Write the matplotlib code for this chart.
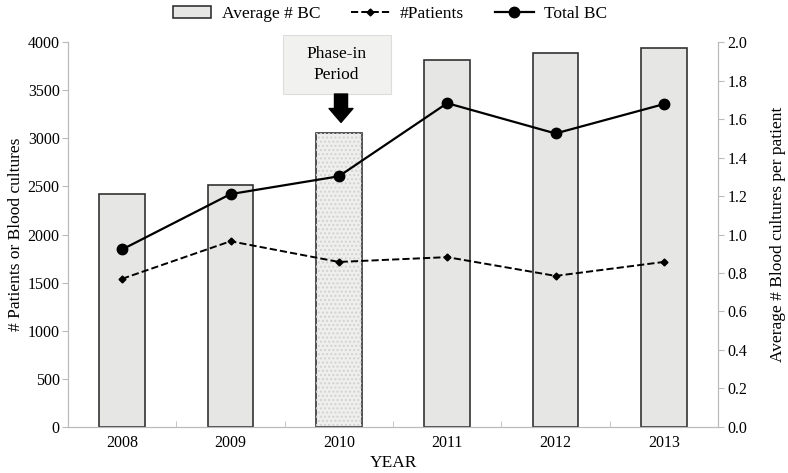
import matplotlib.pyplot as plt
from matplotlib.patches import Rectangle
import numpy as np

plt.rcParams['font.family'] = ['Liberation Serif', 'DejaVu Serif']

# data
years = ["2008", "2009", "2010", "2011", "2012", "2013"]
avg_bc = [1.21, 1.255, 1.525, 1.905, 1.945, 1.97]
patients = [1540, 1930, 1715, 1765, 1570, 1715]
total_bc = [1845, 2420, 2605, 3365, 3050, 3355]

x = np.arange(len(years))

fig = plt.figure(figsize=(7.88, 4.73), dpi=100)
ax = fig.add_axes([0.0863, 0.0973, 0.8249, 0.8138])
ax2 = ax.twinx()

# bars on the secondary axis, drawn behind the lines
ax2.set_zorder(0)
ax.set_zorder(1)
ax.patch.set_visible(False)

colors = ["#e6e6e4"] * len(years)
colors[2] = "#efefed"
bars = ax2.bar(x, avg_bc, width=0.42, color=colors, edgecolor="#333333",
               linewidth=1.2, label="Average # BC")
# subtle dotted fill for the phase-in year
ax2.bar(x[2], avg_bc[2], width=0.42, color="none", edgecolor="#d2d2d2",
        linewidth=0, hatch="....")

l1, = ax.plot(x, patients, linestyle="--", color="black", marker="D",
              markersize=3.5, linewidth=1.4, label="#Patients")
l2, = ax.plot(x, total_bc, linestyle="-", color="black", marker="o",
              markersize=7.5, linewidth=1.6, label="Total BC")

ax.set_xlim(-0.5, len(years) - 0.5)
ax.set_ylim(0, 4000)
ax2.set_ylim(0, 2.0)
ax.set_yticks(np.arange(0, 4001, 500))
ax2.set_yticks(np.arange(0, 2.01, 0.2))
ax2.set_yticklabels([f"{v:.1f}" for v in np.arange(0, 2.01, 0.2)])

ax.set_xticks(x)
ax.set_xticklabels(years)
ax.set_xticks(np.arange(-0.5, len(years), 1), minor=True)
ax.tick_params(axis="x", which="major", length=0, labelsize=11.5, pad=6)
ax.tick_params(axis="x", which="minor", length=4, color="#bbbbbb", direction="in")
ax.tick_params(axis="y", length=4, color="#bbbbbb", labelsize=11.5, pad=2)
ax2.tick_params(axis="y", length=4, color="#bbbbbb", labelsize=11.5, pad=3)

for a in (ax, ax2):
    a.spines["top"].set_visible(False)
    for s in ("left", "right", "bottom"):
        a.spines[s].set_color("#bbbbbb")
        a.spines[s].set_linewidth(0.8)

ax.set_xlabel("YEAR", fontsize=12.5, labelpad=3)
ax.set_ylabel("# Patients or Blood cultures", fontsize=12.5, labelpad=3)
ax2.set_ylabel("Average # Blood cultures per patient", fontsize=12.5, labelpad=16)

# phase-in annotation
ax.add_patch(Rectangle((1.485, 3460), 0.997, 613, facecolor="#f1f1ef",
                       edgecolor="#dddddd", linewidth=0.8, clip_on=False, zorder=3))
ax.text(1.98, 3766, "Phase-in\nPeriod", ha="center", va="center", fontsize=12.5,
        linespacing=1.45, zorder=4)
ax.annotate("", xy=(2.02, 3165), xytext=(2.02, 3460),
            arrowprops=dict(arrowstyle="simple,head_width=0.86,head_length=0.5,tail_width=0.47",
                            mutation_scale=20, color="black", shrinkA=0, shrinkB=0))

fig.legend([bars, l1, l2], ["Average # BC", "#Patients", "Total BC"],
           loc="upper center", bbox_to_anchor=(0.495, 1.02), ncol=3, frameon=False,
           fontsize=12.5, handlelength=2.2, columnspacing=1.8, handletextpad=0.6)

fig.savefig("out.png", dpi=100)
